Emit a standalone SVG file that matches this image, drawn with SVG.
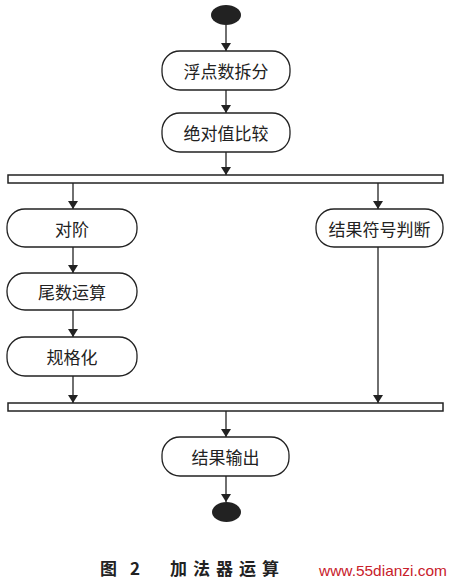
<svg xmlns="http://www.w3.org/2000/svg" width="453" height="583" viewBox="0 0 453 583">
<style>
.n{fill:#fff;stroke:#222;stroke-width:1.3}
.t{font-family:"Noto Sans CJK SC","Noto Sans CJK JP",sans-serif;font-size:17px;fill:#222;text-anchor:middle;dominant-baseline:central}
.c{stroke:#222;stroke-width:1.3;fill:none}
.bar{fill:#fff;stroke:#222;stroke-width:1.5}
.cap{font-family:"Noto Sans CJK SC",sans-serif;font-size:17px;font-weight:bold;fill:#222}
</style>
<defs>
<marker id="a" markerWidth="8" markerHeight="10" refX="8" refY="5" orient="auto" markerUnits="userSpaceOnUse">
<path d="M0,0 L8,5 L0,10 Z" fill="#222"/>
</marker>
</defs>
<rect width="453" height="583" fill="#fff"/>
<g id="connectors">
<line class="c" x1="226" y1="25" x2="226" y2="51" marker-end="url(#a)"/>
<line class="c" x1="226" y1="90" x2="226" y2="113" marker-end="url(#a)"/>
<line class="c" x1="226" y1="152" x2="226" y2="175" marker-end="url(#a)"/>
<line class="c" x1="73" y1="183" x2="73" y2="209" marker-end="url(#a)"/>
<line class="c" x1="378" y1="183" x2="378" y2="209" marker-end="url(#a)"/>
<line class="c" x1="73" y1="247" x2="73" y2="273" marker-end="url(#a)"/>
<line class="c" x1="73" y1="310" x2="73" y2="337" marker-end="url(#a)"/>
<line class="c" x1="73" y1="376" x2="73" y2="403" marker-end="url(#a)"/>
<line class="c" x1="378" y1="247" x2="378" y2="403" marker-end="url(#a)"/>
<line class="c" x1="226" y1="411" x2="226" y2="437" marker-end="url(#a)"/>
<line class="c" x1="226" y1="476" x2="226" y2="502" marker-end="url(#a)"/>
</g>
<g id="start"><ellipse cx="226" cy="15" rx="15" ry="10" fill="#222"/></g>
<g id="split"><rect class="n" x="162" y="51" width="128" height="39" rx="18"/><text class="t" x="226" y="70.5">浮点数拆分</text></g>
<g id="compare"><rect class="n" x="162" y="113" width="128" height="39" rx="18"/><text class="t" x="226" y="132.5">绝对值比较</text></g>
<g id="fork"><rect class="bar" x="8" y="175" width="435" height="8"/></g>
<g id="align"><rect class="n" x="7" y="209" width="130" height="38" rx="18"/><text class="t" x="72" y="228">对阶</text></g>
<g id="sign"><rect class="n" x="316" y="209" width="127" height="38" rx="18"/><text class="t" x="379.5" y="228">结果符号判断</text></g>
<g id="mantissa"><rect class="n" x="7" y="273" width="130" height="37" rx="18"/><text class="t" x="72" y="291.5">尾数运算</text></g>
<g id="normalize"><rect class="n" x="7" y="337" width="130" height="39" rx="18"/><text class="t" x="72" y="356.5">规格化</text></g>
<g id="join"><rect class="bar" x="8" y="403" width="435" height="8"/></g>
<g id="output"><rect class="n" x="162" y="437" width="127" height="39" rx="18"/><text class="t" x="225.5" y="456.5">结果输出</text></g>
<g id="end"><ellipse cx="226.5" cy="512" rx="14.5" ry="10" fill="#222"/></g>
<g id="caption">
<text class="cap" x="100" y="575">图</text>
<text class="cap" x="130" y="575">2</text>
<text class="cap" x="170" y="575" letter-spacing="6">加法器运算</text>
<text x="319" y="576" font-family="Liberation Sans, Arial, sans-serif" font-size="15" fill="#c8202a" textLength="128" lengthAdjust="spacingAndGlyphs">www.55dianzi.com</text>
</g>
</svg>
